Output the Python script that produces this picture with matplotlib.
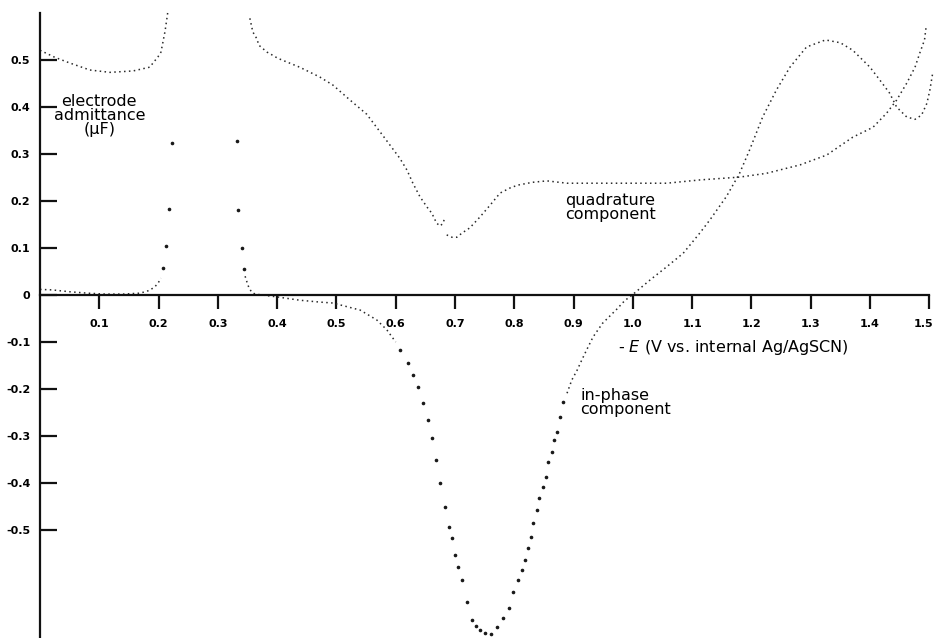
import matplotlib
matplotlib.use("Agg")
import matplotlib.pyplot as plt
from matplotlib.transforms import ScaledTranslation

plt.rcParams['font.family'] = ['DejaVu Sans']

# Quadrature component (upper trace), three pieces broken at the peaks
quad_x1 = [0.0, 0.025, 0.05, 0.084, 0.118, 0.157, 0.185, 0.199, 0.204, 0.207, 0.211, 0.216]
quad_y1 = [0.521, 0.506, 0.494, 0.479, 0.474, 0.477, 0.485, 0.507, 0.517, 0.536, 0.562, 0.606]

quad_x2 = [0.354, 0.359, 0.366, 0.369, 0.383, 0.393, 0.401, 0.438, 0.472, 0.494, 0.523, 0.551,
           0.578, 0.607, 0.619, 0.629, 0.641, 0.653, 0.661, 0.669, 0.675, 0.680, 0.683]
quad_y2 = [0.589, 0.560, 0.545, 0.532, 0.517, 0.510, 0.504, 0.485, 0.464, 0.447, 0.415, 0.385,
           0.340, 0.291, 0.266, 0.238, 0.209, 0.187, 0.174, 0.153, 0.147, 0.153, 0.166]

quad_x3 = [0.686, 0.695, 0.703, 0.712, 0.725, 0.742, 0.759, 0.776, 0.793, 0.806, 0.831, 0.855,
           0.889, 0.944, 0.978, 1.057, 1.113, 1.180, 1.225, 1.282, 1.327, 1.371, 1.405, 1.428,
           1.445, 1.462, 1.476, 1.484, 1.492, 1.495]
quad_y3 = [0.128, 0.123, 0.123, 0.132, 0.143, 0.166, 0.191, 0.217, 0.228, 0.234, 0.240, 0.243,
           0.238, 0.238, 0.238, 0.238, 0.245, 0.251, 0.259, 0.277, 0.298, 0.336, 0.357, 0.387,
           0.415, 0.451, 0.485, 0.515, 0.543, 0.574]

# In-phase component (lower trace)
ip_x1 = [0.0, 0.02, 0.05, 0.08, 0.11, 0.14, 0.169, 0.185, 0.194, 0.199, 0.204]
ip_y1 = [0.012, 0.011, 0.007, 0.004, 0.002, 0.002, 0.004, 0.010, 0.018, 0.025, 0.036]

# lone dots on the steep flanks of the two peaks
ip_peak_x = [0.207, 0.212, 0.218, 0.223, 0.332, 0.334, 0.341, 0.344]
ip_peak_y = [0.057, 0.104, 0.183, 0.323, 0.328, 0.181, 0.100, 0.055]

ip_x2 = [0.346, 0.349, 0.352, 0.357, 0.363, 0.40, 0.438, 0.472, 0.494, 0.54, 0.568, 0.585, 0.60]
ip_y2 = [0.040, 0.028, 0.017, 0.006, 0.002, -0.004, -0.011, -0.015, -0.017, -0.032, -0.053, -0.074, -0.100]

# sparse dots through the deep minimum
dip_x = [0.607, 0.621, 0.630, 0.637, 0.646, 0.654, 0.661, 0.668, 0.675, 0.683, 0.690, 0.695,
         0.700, 0.705, 0.712, 0.720, 0.728, 0.735, 0.742, 0.750, 0.760, 0.771, 0.781, 0.791,
         0.798, 0.806, 0.813, 0.818, 0.823, 0.828, 0.831, 0.838, 0.841, 0.848, 0.853, 0.857,
         0.863, 0.867, 0.872, 0.877, 0.882]
dip_y = [-0.117, -0.145, -0.170, -0.196, -0.230, -0.266, -0.304, -0.351, -0.400, -0.451, -0.494, -0.517,
         -0.553, -0.579, -0.606, -0.653, -0.691, -0.705, -0.713, -0.720, -0.721, -0.706, -0.687, -0.666,
         -0.632, -0.606, -0.585, -0.564, -0.538, -0.515, -0.485, -0.457, -0.432, -0.408, -0.387, -0.355,
         -0.334, -0.309, -0.291, -0.260, -0.228]

ip_x3 = [0.889, 0.897, 0.906, 0.914, 0.922, 0.933, 0.949, 0.961, 0.973, 0.987, 0.995, 1.029,
         1.057, 1.085, 1.113, 1.130, 1.158, 1.180, 1.197, 1.219, 1.242, 1.265, 1.293, 1.325,
         1.350, 1.371, 1.400, 1.417, 1.433, 1.445, 1.462, 1.476, 1.487, 1.496, 1.501, 1.506]
ip_y3 = [-0.209, -0.181, -0.160, -0.138, -0.117, -0.089, -0.060, -0.045, -0.030, -0.011, -0.004, 0.032,
         0.060, 0.089, 0.132, 0.160, 0.210, 0.259, 0.309, 0.379, 0.436, 0.485, 0.528, 0.543,
         0.537, 0.521, 0.485, 0.457, 0.430, 0.400, 0.379, 0.374, 0.383, 0.408, 0.436, 0.474]

x_ticks = [0.1, 0.2, 0.3, 0.4, 0.5, 0.6, 0.7, 0.8, 0.9, 1.0, 1.1, 1.2, 1.3, 1.4, 1.5]
x_labels = ['0.1', '0.2', '0.3', '0.4', '0.5', '0.6', '0.7', '0.8', '0.9', '1.0',
            '1.1', '1.2', '1.3', '1.4', '1.5']
y_ticks = [0.5, 0.4, 0.3, 0.2, 0.1, 0.0, -0.1, -0.2, -0.3, -0.4, -0.5]
y_labels = ['0.5', '0.4', '0.3', '0.2', '0.1', '0', '-0.1', '-0.2', '-0.3', '-0.4', '-0.5']

fig = plt.figure(figsize=(9.34, 6.38), dpi=100)
ax = fig.add_axes([40 / 934, 0.0, 894 / 934, 1.0])
ax.set_xlim(0, 1.508)
ax.set_ylim(-0.730, 0.628)

dot_style = dict(color='#2a2a2a', linestyle=(0, (1, 2.2)), linewidth=1.1)
mark_style = dict(color='#1a1a1a', linestyle='none', marker='o', markersize=1.6)

for xs, ys in [(quad_x1, quad_y1), (quad_x2, quad_y2), (quad_x3, quad_y3),
               (ip_x1, ip_y1), (ip_x2, ip_y2), (ip_x3, ip_y3)]:
    ax.plot(xs, ys, clip_on=False, **dot_style)
ax.plot(ip_peak_x, ip_peak_y, **mark_style)
ax.plot(dip_x, dip_y, **mark_style)

# Axes: left spine at x=0, horizontal axis through y=0
ax.spines['top'].set_visible(False)
ax.spines['right'].set_visible(False)
ax.spines['bottom'].set_position(('data', 0))
ax.spines['bottom'].set_bounds(0, 1.5)
ax.spines['left'].set_bounds(-0.73, 0.60)
for s in ['bottom', 'left']:
    ax.spines[s].set_linewidth(1.6)
    ax.spines[s].set_color('#111111')

ax.set_xticks(x_ticks)
ax.set_xticklabels(x_labels, fontsize=8, fontweight='bold')
ax.set_yticks(y_ticks)
ax.set_yticklabels(y_labels, fontsize=8, fontweight='bold')
ax.tick_params(axis='x', direction='out', length=10, width=1.6, pad=7, color='#111111')
ax.tick_params(axis='y', direction='in', length=12, width=1.6, pad=7, color='#111111')

# last x label sits at the figure edge, nudge it left a little
last = ax.get_xticklabels()[-1]
last.set_transform(last.get_transform() + ScaledTranslation(-6 / 100, 0, fig.dpi_scale_trans))

# Annotations
ax.text(0.100, 0.383, 'electrode\nadmittance\n(\u03bcF)', fontsize=11.5, ha='center', va='center',
        linespacing=0.92)
ax.text(0.885, 0.187, 'quadrature\ncomponent', fontsize=11.5, ha='left', va='center', linespacing=0.92)
ax.text(0.911, -0.228, 'in-phase\ncomponent', fontsize=11.5, ha='left', va='center', linespacing=0.92)
ax.text(0.975, -0.111, '- $\\it{E}$ (V vs. internal Ag/AgSCN)', fontsize=11.5, ha='left', va='center')

fig.savefig('out.png', dpi=100)
